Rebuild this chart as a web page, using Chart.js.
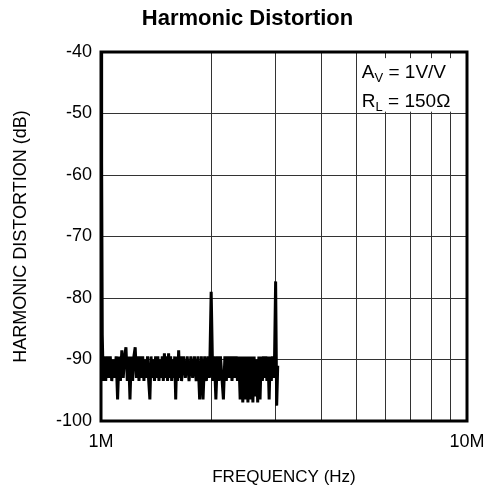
<!DOCTYPE html>
<html>
<head>
<meta charset="utf-8">
<script src="https://cdn.jsdelivr.net/npm/chart.js@4.4.1/dist/chart.umd.min.js"></script>
<style>
  html, body { margin: 0; padding: 0; background: #fff; }
  #wrap { width: 495px; height: 492px; position: relative; }
</style>
</head>
<body>
<div id="wrap"><canvas id="c" width="495" height="492"></canvas></div>
<script>
// ---- Data ----
const chartTitle = 'Harmonic Distortion';
const xAxisTitle = 'FREQUENCY (Hz)';
const yAxisTitle = 'HARMONIC DISTORTION (dB)';

// x tick values (Hz) used for grid lines; labelled ones below
const xTickValues = [1e6, 2e6, 3e6, 4e6, 5e6, 6e6, 7e6, 8e6, 9e6, 1e7];
const xTickLabels = { 1000000: '1M', 10000000: '10M' };
const yTickValues = [-100, -90, -80, -70, -60, -50, -40];

// Spectrum trace: frequency (MHz) and level (dB)
const freqMHz = [
  1.000, 1.004, 1.008, 1.014,
  1.02, 1.03, 1.04, 1.05, 1.06, 1.07, 1.08, 1.09, 1.10, 1.11,
  1.12, 1.13, 1.14, 1.15, 1.16, 1.17, 1.18, 1.19, 1.20, 1.21,
  1.22, 1.23, 1.24, 1.25, 1.26, 1.27, 1.28, 1.29, 1.30, 1.31,
  1.32, 1.33, 1.34, 1.35, 1.36, 1.37, 1.38, 1.39, 1.40, 1.41,
  1.42, 1.43, 1.44, 1.45, 1.46, 1.47, 1.48, 1.49, 1.50, 1.51,
  1.52, 1.53, 1.54, 1.55, 1.56, 1.57, 1.58, 1.59, 1.60, 1.61,
  1.62, 1.63, 1.64, 1.65, 1.66, 1.68, 1.70, 1.72, 1.74, 1.76,
  1.78, 1.80, 1.82, 1.84, 1.86, 1.88, 1.90, 1.92, 1.94, 1.96,
  1.98, 2.00, 2.02, 2.04, 2.06, 2.08, 2.10, 2.12, 2.14, 2.16,
  2.18, 2.20, 2.22, 2.24, 2.26, 2.28, 2.30, 2.32, 2.34, 2.36,
  2.38, 2.40, 2.42, 2.44, 2.46, 2.48, 2.50, 2.52, 2.54, 2.56,
  2.58, 2.60, 2.62, 2.64, 2.66, 2.68, 2.70, 2.72, 2.74, 2.76,
  2.78, 2.80, 2.82, 2.84, 2.86, 2.88, 2.90, 2.92, 2.94, 2.96,
  2.98, 3.00, 3.02, 3.04
];
const levelDb = [
  -40, -58, -86, -93.5,
  -89.5, -93.5, -89.5, -93, -89.5, -93.5, -90, -93, -89.5, -96.5,
  -89.5, -93.5, -88.5, -93, -89.5, -88, -93.5, -89.5, -96.5, -89.5,
  -93.5, -89.5, -88, -93, -89.5, -93.5, -89.5, -93, -89.5, -93.5,
  -90, -93, -89.5, -93.5, -96.5, -89.5, -93, -90, -93.5, -89.5,
  -93, -89.5, -93.5, -90, -93, -89.5, -93.5, -89, -93, -89.5,
  -93.5, -89, -93, -89.5, -93.5, -90, -93, -89.5, -96.5, -89.5,
  -93.5, -88.5, -93, -89.5, -93.5, -89.5, -93, -89.5, -93.5, -89.5,
  -93, -89.5, -93.5, -89.5, -96.5, -89.5, -96.5, -89.5, -93.5, -89.5,
  -93, -79, -93.5, -89.5, -96.5, -89.5, -93.5, -89.5, -93, -96.5,
  -89.5, -93.5, -89.5, -93, -89.5, -93.5, -89.5, -93, -89.5, -93.5,
  -89.5, -96.5, -89.5, -97, -89.5, -96.5, -89.5, -97, -89.5, -96.5,
  -89.5, -97, -89.5, -96, -90, -97, -89.5, -96.5, -89.5, -93.5,
  -89.5, -93, -89.5, -93.5, -89.5, -96.5, -89.5, -93.5, -89.5, -93,
  -89.5, -77.3, -97.5, -91
];

const FONT = "'Liberation Sans', Arial, Helvetica, sans-serif";

const framePlugin = {
  id: 'frame',
  beforeDatasetsDraw(chart) {
    const { ctx, chartArea: a } = chart;
    ctx.save();
    ctx.strokeStyle = '#000';
    ctx.lineWidth = 3;
    ctx.strokeRect(a.left, a.top, a.right - a.left, a.bottom - a.top);
    ctx.restore();
  }
};

const notePlugin = {
  id: 'note',
  afterDraw(chart) {
    const { ctx } = chart;
    const xs = chart.scales.x, ys = chart.scales.y;
    const bx = xs.getPixelForValue(5e6) + 2;
    const bTop = ys.getPixelForValue(-41);
    const bBot = ys.getPixelForValue(-49.7);
    const bRight = chart.chartArea.right - 2;
    ctx.save();
    ctx.fillStyle = '#fff';
    ctx.fillRect(bx, bTop, bRight - bx, bBot - bTop);
    ctx.fillStyle = '#000';
    ctx.textBaseline = 'alphabetic';
    const big = '19px ' + FONT, small = '13px ' + FONT;
    function line(x, y, main, sub, rest) {
      ctx.font = big;
      ctx.fillText(main, x, y);
      let w = ctx.measureText(main).width;
      ctx.font = small;
      ctx.fillText(sub, x + w, y + 4);
      w += ctx.measureText(sub).width;
      ctx.font = big;
      ctx.fillText(rest, x + w, y);
    }
    line(bx + 3, ys.getPixelForValue(-44.3), 'A', 'V', ' = 1V/V');
    line(bx + 3, ys.getPixelForValue(-48.9), 'R', 'L', ' = 150\u03A9');
    ctx.restore();
  }
};

new Chart(document.getElementById('c'), {
  type: 'line',
  data: {
    datasets: [{
      data: freqMHz.map((f, i) => ({ x: f * 1e6, y: levelDb[i] })),
      borderColor: '#000',
      borderWidth: 3,
      pointRadius: 0,
      tension: 0,
      fill: false
    }]
  },
  options: {
    responsive: false,
    animation: false,
    devicePixelRatio: 1,
    layout: { padding: 0 },
    plugins: {
      legend: { display: false },
      tooltip: { enabled: false },
      title: {
        display: true,
        text: chartTitle,
        color: '#000',
        font: { family: FONT, size: 22, weight: 'bold' },
        padding: { top: 6, bottom: 19.6 }
      }
    },
    scales: {
      x: {
        type: 'logarithmic',
        min: 1e6,
        max: 1e7,
        afterBuildTicks(s) { s.ticks = xTickValues.map(v => ({ value: v })); },
        afterFit(s) { s.height = 71; },
        ticks: {
          autoSkip: false,
          maxRotation: 0,
          color: '#000',
          font: { family: FONT, size: 18 },
          padding: 10,
          callback(v) { return xTickLabels[v] || ''; }
        },
        grid: { color: '#333', lineWidth: 1, drawTicks: false },
        border: { display: false },
        title: {
          display: true,
          text: xAxisTitle,
          color: '#000',
          font: { family: FONT, size: 17 },
          padding: { top: 0, bottom: 4 }
        }
      },
      y: {
        type: 'linear',
        min: -100,
        max: -40,
        afterBuildTicks(s) { s.ticks = yTickValues.map(v => ({ value: v })); },
        afterFit(s) { s.width = 101; },
        ticks: {
          color: '#000',
          font: { family: FONT, size: 18 },
          padding: 9
        },
        grid: { color: '#333', lineWidth: 1, drawTicks: false },
        border: { display: false },
        title: {
          display: true,
          text: yAxisTitle,
          color: '#000',
          font: { family: FONT, size: 18 },
          padding: { top: 10, bottom: 0 }
        }
      },
      yRight: {
        type: 'linear',
        position: 'right',
        display: true,
        min: -100,
        max: -40,
        afterFit(s) { s.width = 28; },
        ticks: { display: false },
        grid: { display: false, drawOnChartArea: false, drawTicks: false },
        border: { display: false }
      }
    }
  },
  plugins: [framePlugin, notePlugin]
});
</script>
</body>
</html>
